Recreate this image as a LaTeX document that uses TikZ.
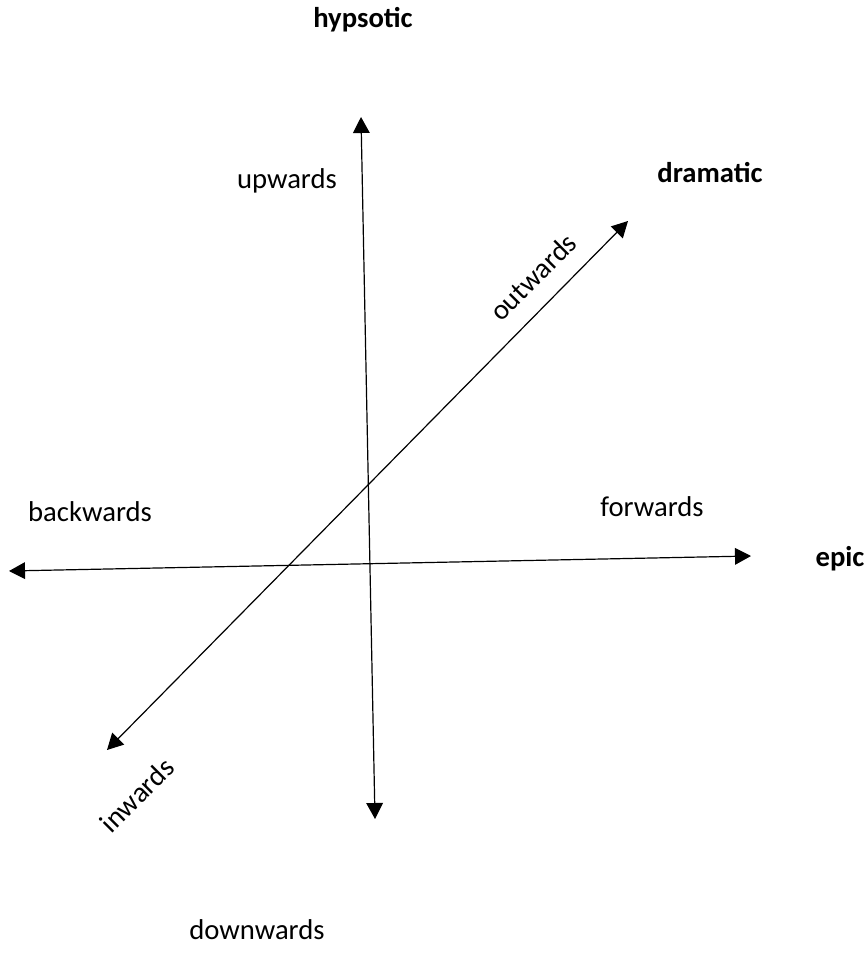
\documentclass[tikz,border=0pt]{standalone}
\usepackage{fontspec}
\setmainfont{Carlito}
\usetikzlibrary{arrows.meta}
\begin{document}
\begin{tikzpicture}[x=0.75pt,y=-0.75pt,
  axis/.style={line width=0.9pt,{Triangle[length=12pt,width=12.5pt]}-{Triangle[length=12pt,width=12.5pt]}},
  lbl/.style={font=\fontsize{21.5pt}{24pt}\selectfont,inner sep=0pt},
  blbl/.style={lbl,font=\fontsize{21.5pt}{24pt}\selectfont\bfseries}]
\useasboundingbox (0,0) rectangle (867,973);
\coordinate (vt) at (361,117);
\coordinate (vb) at (375,819);
\coordinate (hl) at (9,571);
\coordinate (hr) at (751,556);
\coordinate (dt) at (628,221);
\coordinate (db) at (107,750);
\draw[axis] (vb) -- (vt);
\draw[axis] (hl) -- (hr);
\draw[axis] (db) -- (dt);
\node[blbl] (hyp) at (363,20) {hypsotic};
\node[lbl] (up) at (287,181) {upwards};
\node[blbl] (dram) at (710,173) {dramatic};
\node[lbl,rotate=45] (out) at (533,277) {outwards};
\node[lbl] (back) at (90,512) {backwards};
\node[lbl] (fwd) at (652,507) {forwards};
\node[blbl] (epic) at (840,559) {epic};
\node[lbl,rotate=45] (in) at (137,795) {inwards};
\node[lbl] (down) at (257,930) {downwards};
\end{tikzpicture}
\end{document}
